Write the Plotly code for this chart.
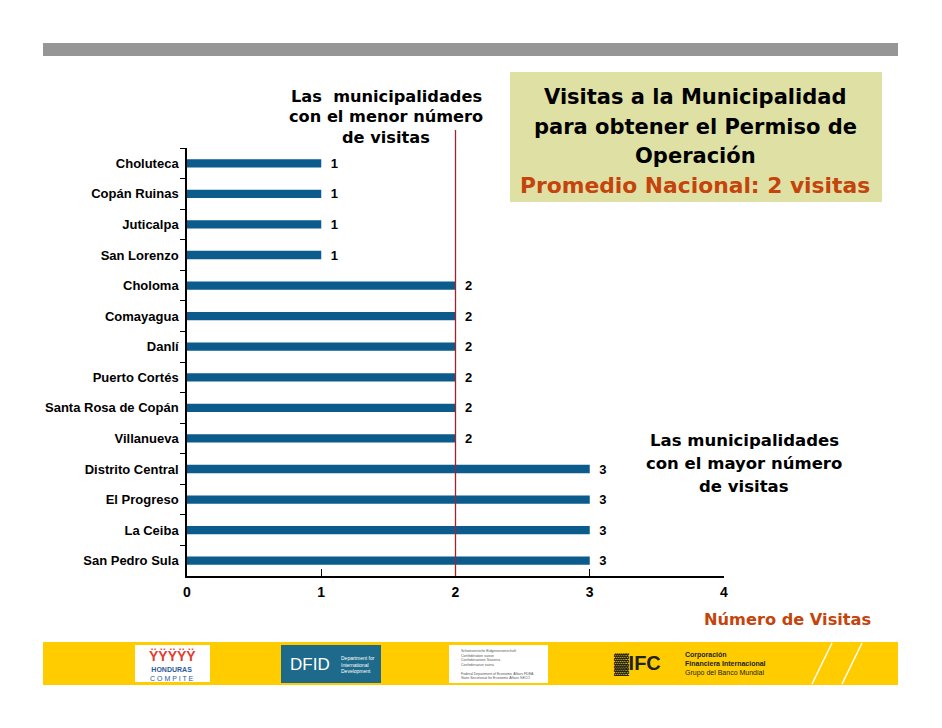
import plotly.graph_objects as go

municipios = ["Choluteca", "Copán Ruinas", "Juticalpa", "San Lorenzo", "Choloma",
              "Comayagua", "Danlí", "Puerto Cortés", "Santa Rosa de Copán", "Villanueva",
              "Distrito Central", "El Progreso", "La Ceiba", "San Pedro Sula"]
visitas = [1, 1, 1, 1, 2, 2, 2, 2, 2, 2, 3, 3, 3, 3]
promedio = 2
x_ticks = [0, 1, 2, 3, 4]

FONT = "Liberation Sans, Arial, sans-serif"
AFONT = "DejaVu Sans, Verdana, sans-serif"
W, H = 942, 728
OFF = 8  # page body margin
PL, PR, PT, PB = 187, 724, 148, 576  # plot area in screen pixels


def px(x):
    return (x - PL) / (PR - PL)


def py(y):
    return (PB - y) / (PB - PT)


fig = go.Figure()
fig.add_trace(go.Bar(
    x=visitas, y=municipios, orientation="h",
    marker=dict(color="#0b5b8c", line=dict(width=0)),
    text=[str(v) for v in visitas], texttemplate="\u2002%{text}",
    textposition="outside", constraintext="none",
    textfont=dict(family=FONT, size=13, color="black", weight="bold"),
    cliponaxis=False, hoverinfo="skip",
))

shapes = [
    dict(type="rect", xref="paper", yref="paper", x0=px(43), x1=px(898), y0=py(56), y1=py(43),
         fillcolor="#969696", line=dict(width=0), layer="below"),
    dict(type="rect", xref="paper", yref="paper", x0=px(43), x1=px(898), y0=py(685), y1=py(642),
         fillcolor="#ffcc00", line=dict(width=0), layer="below"),
    dict(type="rect", xref="paper", yref="paper", x0=px(510), x1=px(882), y0=py(202), y1=py(72),
         fillcolor="#dfe0a4", line=dict(width=0), layer="below"),
    dict(type="line", xref="x", yref="paper", x0=promedio, x1=promedio, y0=0, y1=py(130),
         line=dict(color="#a3232d", width=1.3)),
    dict(type="rect", xref="paper", yref="paper", x0=px(135), x1=px(210), y0=py(682), y1=py(645),
         fillcolor="white", line=dict(width=0)),
    dict(type="rect", xref="paper", yref="paper", x0=px(281), x1=px(381), y0=py(683), y1=py(645),
         fillcolor="#1d6a8a", line=dict(width=0)),
    dict(type="rect", xref="paper", yref="paper", x0=px(449), x1=px(548), y0=py(683), y1=py(645),
         fillcolor="white", line=dict(width=0)),
    dict(type="line", xref="paper", yref="paper", x0=px(812), x1=px(832), y0=py(684), y1=py(643),
         line=dict(color="white", width=1.5)),
    dict(type="line", xref="paper", yref="paper", x0=px(842), x1=px(862), y0=py(684), y1=py(643),
         line=dict(color="white", width=1.5)),
]


def line_ann(text, x, y, size, color="black"):
    return dict(xref="paper", yref="paper", x=px(x), y=py(y), xanchor="center", yanchor="middle",
                text="<b>" + text + "</b>", showarrow=False,
                font=dict(family=AFONT, size=size, color=color))


annotations = [
    line_ann("Las  municipalidades", 386, 96, 16.2),
    line_ann("con el menor número", 386, 117, 16.2),
    line_ann("de visitas", 386, 138, 16.2),
    line_ann("Las municipalidades", 744, 440, 16.5),
    line_ann("con el mayor número", 744, 463, 16.5),
    line_ann("de visitas", 744, 486, 16.5),
    line_ann("Visitas a la Municipalidad", 695, 97, 21),
    line_ann("para obtener el Permiso de", 695, 127, 21),
    line_ann("Operación", 695, 156, 21),
    line_ann("Promedio Nacional: 2 visitas", 695, 185, 21.8, "#c4440c"),
    line_ann("Número de Visitas", 787, 619, 16.2, "#c4440c"),
    # footer logos
    dict(xref="paper", yref="paper", x=px(172), y=py(646), xanchor="center", yanchor="top",
         text="<b>ŸŸŸŸŸ</b>", showarrow=False, font=dict(family=FONT, size=14, color="#e04030")),
    dict(xref="paper", yref="paper", x=px(172), y=py(664), xanchor="center", yanchor="top",
         text="<b>HONDURAS</b><br>C O M P I T E", showarrow=False,
         font=dict(family=FONT, size=7, color="#2a5a9a")),
    dict(xref="paper", yref="paper", x=px(310), y=py(664), xanchor="center", yanchor="middle",
         text="DFID", showarrow=False, font=dict(family=FONT, size=17, color="white")),
    dict(xref="paper", yref="paper", x=px(339), y=py(664), xanchor="left", yanchor="middle",
         text="Department for<br>International<br>Development", showarrow=False, align="left",
         font=dict(family=FONT, size=5, color="white")),
    dict(xref="paper", yref="paper", x=px(459), y=py(664), xanchor="left", yanchor="middle",
         text="Schweizerische Eidgenossenschaft<br>Confédération suisse<br>Confederazione Svizzera<br>Confederaziun svizra<br><br>Federal Department of Economic Affairs FDEA<br>State Secretariat for Economic Affairs SECO",
         showarrow=False, align="left", font=dict(family=FONT, size=3.5, color="#555555")),
    dict(xref="paper", yref="paper", x=px(612), y=py(664), xanchor="left", yanchor="middle",
         text="<b>▓IFC</b>", showarrow=False, font=dict(family=FONT, size=20, color="#222222")),
    dict(xref="paper", yref="paper", x=px(683), y=py(664), xanchor="left", yanchor="middle",
         text="<b>Corporación<br>Financiera Internacional</b><br>Grupo del Banco Mundial",
         showarrow=False, align="left", font=dict(family=FONT, size=7, color="#222222")),
]

fig.update_layout(
    width=W, height=H,
    margin=dict(l=PL - OFF, r=W - (PR - OFF), t=PT - OFF, b=H - (PB - OFF), pad=0),
    paper_bgcolor="white", plot_bgcolor="white",
    showlegend=False, bargap=0.73,
    font=dict(family=FONT, color="black"),
    shapes=shapes, annotations=annotations,
    xaxis=dict(range=[0, 4], tickvals=x_ticks, ticktext=[str(t) for t in x_ticks],
               showgrid=False, zeroline=False, showline=True, linecolor="black", linewidth=1.5,
               ticks="inside", ticklen=7, tickcolor="black", tickwidth=1, ticklabelstandoff=2,
               tickfont=dict(family=FONT, size=14, color="black", weight="bold")),
    yaxis=dict(autorange="reversed", showgrid=False, zeroline=False, showline=True,
               linecolor="black", linewidth=1.5, ticks="outside", tickson="boundaries",
               ticklen=5, tickcolor="black", tickwidth=1, ticklabelstandoff=4,
               tickfont=dict(family=FONT, size=13, color="black", weight="bold")),
)

fig.write_html("out.html")
